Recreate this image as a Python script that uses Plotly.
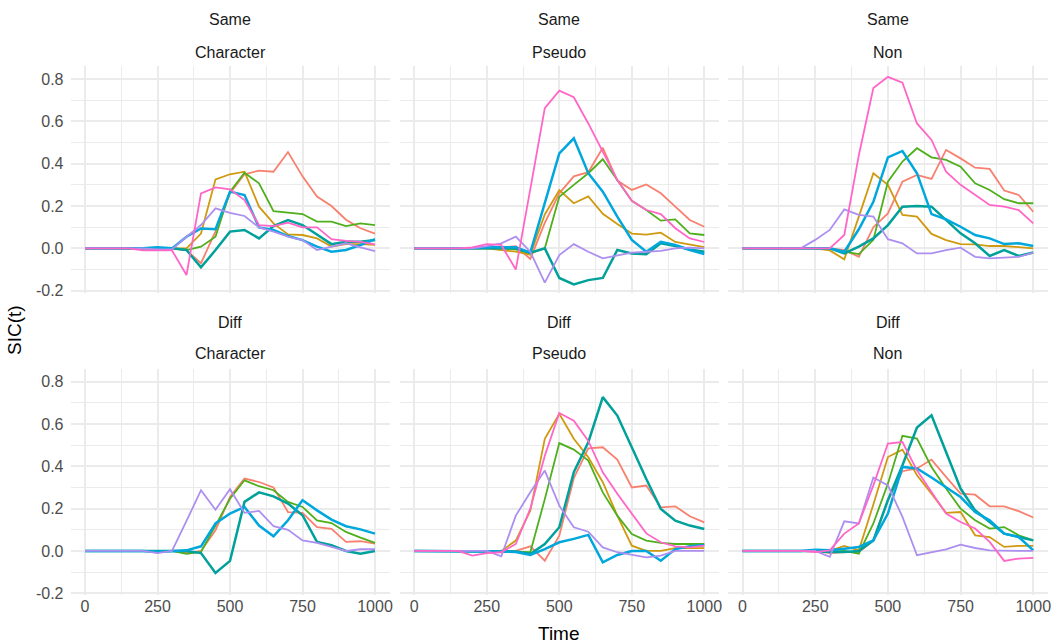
import plotly.graph_objects as go

time_ms = [0, 50, 100, 150, 200, 250, 300, 350, 400, 450, 500, 550, 600, 650, 700, 750, 800, 850, 900, 950, 1000]

row_labels = ["Same", "Diff"]
col_labels = ["Character", "Pseudo", "Non"]
series_names = ["s1", "s2", "s3", "s4", "s5", "s6", "s7"]
series_colors = ["#F8806F", "#D09A10", "#4FAF1C", "#00A09B", "#00A7DD", "#AD8FF0", "#FF66C8"]
series_widths = [1.8, 1.8, 1.8, 2.5, 2.5, 1.8, 1.8]

y_ticks = [-0.2, 0.0, 0.2, 0.4, 0.6, 0.8]
y_tick_text = ["-0.2", "0.0", "0.2", "0.4", "0.6", "0.8"]
x_ticks = [0, 250, 500, 750, 1000]
x_tick_text = ["0", "250", "500", "750", "1000"]

# Same / Character
same_char_s1 = [0, 0, 0, 0, 0, 0, 0, -0.01, -0.07, 0.08, 0.26, 0.35, 0.367, 0.362, 0.455, 0.34, 0.245, 0.2, 0.135, 0.095, 0.07]
same_char_s2 = [0, 0, 0, 0, 0, 0, 0, 0.0, 0.07, 0.326, 0.35, 0.362, 0.197, 0.118, 0.066, 0.063, 0.047, 0.008, 0.02, 0.02, 0.016]
same_char_s3 = [0, 0, 0, 0, 0, 0, 0, -0.008, 0.008, 0.055, 0.268, 0.357, 0.307, 0.176, 0.168, 0.162, 0.126, 0.126, 0.105, 0.118, 0.11]
same_char_s4 = [0, 0, 0, 0, 0, 0, 0, -0.008, -0.09, -0.008, 0.079, 0.087, 0.047, 0.105, 0.134, 0.11, 0.063, 0.02, 0.031, 0.031, 0.039]
same_char_s5 = [0, 0, 0, 0, 0, 0.005, 0.0, 0.055, 0.094, 0.09, 0.268, 0.252, 0.099, 0.087, 0.058, 0.039, 0.008, -0.016, -0.008, 0.016, 0.043]
same_char_s6 = [0, 0, 0, 0, 0, -0.005, -0.005, 0.055, 0.11, 0.189, 0.168, 0.153, 0.099, 0.079, 0.055, 0.039, -0.008, 0.008, 0.024, 0.005, -0.013]
same_char_s7 = [0, 0, 0, 0, -0.01, -0.01, -0.01, -0.126, 0.26, 0.288, 0.279, 0.228, 0.11, 0.105, 0.121, 0.099, 0.099, 0.043, 0.035, 0.031, 0.019]

# Same / Pseudo
same_pseudo_s1 = [0, 0, 0, 0, 0, 0, 0.005, 0.01, -0.05, 0.12, 0.26, 0.34, 0.36, 0.475, 0.32, 0.276, 0.302, 0.26, 0.197, 0.134, 0.102]
same_pseudo_s2 = [0, 0, 0, 0, 0, 0, -0.008, -0.016, -0.03, 0.16, 0.275, 0.213, 0.245, 0.163, 0.115, 0.07, 0.065, 0.074, 0.03, 0.017, 0.006]
same_pseudo_s3 = [0, 0, 0, 0, 0, 0, 0, -0.005, -0.024, 0.0, 0.244, 0.3, 0.355, 0.421, 0.323, 0.225, 0.181, 0.131, 0.137, 0.071, 0.063]
same_pseudo_s4 = [0, 0, 0, 0, 0, 0, 0, 0, -0.02, 0.0, -0.14, -0.17, -0.15, -0.14, -0.008, -0.024, -0.028, 0.024, 0.011, -0.005, -0.016]
same_pseudo_s5 = [0, 0, 0, 0, 0, 0.005, 0.005, 0.005, -0.02, 0.21, 0.449, 0.52, 0.355, 0.268, 0.15, 0.04, -0.016, 0.031, 0.016, -0.008, -0.027]
same_pseudo_s6 = [0, 0, 0, 0, 0, 0.01, 0.024, 0.055, -0.016, -0.162, -0.032, 0.02, -0.016, -0.047, -0.032, -0.02, -0.016, -0.012, 0.0, 0.003, 0.0]
same_pseudo_s7 = [0, 0, 0, 0, 0.005, 0.02, 0.016, -0.10, 0.28, 0.662, 0.745, 0.714, 0.59, 0.457, 0.323, 0.225, 0.181, 0.162, 0.095, 0.047, 0.03]

# Same / Non
same_non_s1 = [0, 0, 0, 0, 0, 0, 0, -0.008, -0.04, 0.10, 0.165, 0.315, 0.347, 0.328, 0.465, 0.425, 0.381, 0.375, 0.273, 0.252, 0.173]
same_non_s2 = [0, 0, 0, 0, 0, 0, -0.01, -0.052, 0.15, 0.355, 0.30, 0.158, 0.15, 0.068, 0.039, 0.02, 0.019, 0.011, 0.011, 0.005, 0.0]
same_non_s3 = [0, 0, 0, 0, 0, 0, 0, -0.016, -0.027, 0.04, 0.315, 0.41, 0.473, 0.43, 0.418, 0.386, 0.307, 0.276, 0.232, 0.213, 0.213]
same_non_s4 = [0, 0, 0, 0, 0, 0, 0, -0.024, 0.008, 0.047, 0.11, 0.197, 0.2, 0.197, 0.134, 0.071, 0.024, -0.036, -0.008, -0.036, -0.02]
same_non_s5 = [0, 0, 0, 0, 0, 0, 0, -0.016, 0.09, 0.22, 0.43, 0.46, 0.355, 0.162, 0.137, 0.102, 0.063, 0.047, 0.02, 0.024, 0.011]
same_non_s6 = [0, 0, 0, 0, 0, 0.04, 0.087, 0.184, 0.158, 0.15, 0.043, 0.024, -0.024, -0.024, -0.008, 0.003, -0.04, -0.047, -0.043, -0.04, -0.02]
same_non_s7 = [0, 0, 0, 0, 0, 0, 0, 0.063, 0.44, 0.757, 0.81, 0.783, 0.59, 0.512, 0.362, 0.3, 0.252, 0.205, 0.197, 0.181, 0.118]

# Diff / Character (no s2, s7 lines in this panel)
diff_char_s1 = [0, 0, 0, 0, 0, 0, 0, -0.01, 0.0, 0.098, 0.255, 0.342, 0.326, 0.3, 0.184, 0.18, 0.113, 0.105, 0.043, 0.046, 0.035]
diff_char_s2 = None
diff_char_s3 = [0, 0, 0, 0, 0, 0, 0, -0.013, -0.005, 0.12, 0.247, 0.334, 0.306, 0.287, 0.232, 0.208, 0.145, 0.132, 0.09, 0.063, 0.038]
diff_char_s4 = [0, 0, 0, 0, 0, 0, 0, 0, -0.01, -0.104, -0.047, 0.232, 0.277, 0.258, 0.224, 0.169, 0.043, 0.027, 0.0, -0.013, 0.0]
diff_char_s5 = [0, 0, 0, 0, 0, -0.005, 0, 0.003, 0.022, 0.13, 0.177, 0.208, 0.12, 0.069, 0.145, 0.24, 0.192, 0.148, 0.117, 0.102, 0.082]
diff_char_s6 = [0, 0, 0, 0, 0, -0.01, 0, 0.142, 0.287, 0.195, 0.292, 0.18, 0.189, 0.117, 0.1, 0.05, 0.038, 0.019, 0.0, 0.008, 0.008]
diff_char_s7 = None

# Diff / Pseudo
diff_pseudo_s1 = [0, 0, 0, 0, 0, 0, 0, 0, 0.022, -0.046, 0.072, 0.344, 0.485, 0.49, 0.432, 0.3, 0.309, 0.206, 0.211, 0.164, 0.135]
diff_pseudo_s2 = [0, 0, 0, 0, 0, 0, 0, 0.049, 0.19, 0.53, 0.648, 0.53, 0.443, 0.325, 0.167, 0.025, 0.0, 0.0, 0.013, 0.013, 0.013]
diff_pseudo_s3 = [0, 0, 0, 0, 0, 0, 0, -0.003, -0.006, 0.245, 0.51, 0.479, 0.427, 0.277, 0.167, 0.08, 0.049, 0.038, 0.033, 0.033, 0.033]
diff_pseudo_s4 = [0, 0, 0, 0, 0, 0, 0, -0.003, -0.014, 0.033, 0.112, 0.372, 0.514, 0.727, 0.64, 0.49, 0.34, 0.199, 0.143, 0.12, 0.104]
diff_pseudo_s5 = [0, 0, 0, 0, 0, 0, -0.003, -0.005, -0.019, 0.009, 0.041, 0.057, 0.076, -0.054, -0.019, 0.0, 0.0, -0.046, 0.009, 0.022, 0.028]
diff_pseudo_s6 = [0, 0, 0, 0, 0, 0, -0.025, 0.167, 0.277, 0.38, 0.214, 0.112, 0.091, 0.017, -0.006, -0.019, -0.03, -0.022, 0.0, 0.0, 0.0]
diff_pseudo_s7 = [0, 0, 0, 0, -0.022, -0.01, -0.006, 0.033, 0.2, 0.45, 0.652, 0.616, 0.52, 0.372, 0.27, 0.175, 0.083, 0.041, 0.022, 0.017, 0.025]

# Diff / Non
diff_non_s1 = [0, 0, 0, 0, 0, 0, -0.01, -0.005, -0.005, 0.05, 0.24, 0.377, 0.39, 0.432, 0.35, 0.271, 0.266, 0.211, 0.211, 0.188, 0.158]
diff_non_s2 = [0, 0, 0, 0, 0, 0, 0, 0.024, 0.003, 0.22, 0.444, 0.479, 0.358, 0.271, 0.18, 0.184, 0.074, 0.066, 0.019, 0.024, 0.024]
diff_non_s3 = [0, 0, 0, 0, 0, 0, -0.005, 0, -0.013, 0.13, 0.318, 0.544, 0.531, 0.397, 0.295, 0.2, 0.145, 0.106, 0.113, 0.074, 0.05]
diff_non_s4 = [0, 0, 0, 0, 0, 0, -0.005, -0.005, 0.0, 0.05, 0.24, 0.405, 0.583, 0.641, 0.468, 0.295, 0.192, 0.137, 0.082, 0.066, 0.05]
diff_non_s5 = [0, 0, 0, 0, 0, 0.006, 0.003, 0.011, 0.019, 0.05, 0.177, 0.397, 0.39, 0.347, 0.303, 0.255, 0.184, 0.145, 0.082, 0.066, 0.003]
diff_non_s6 = [0, 0, 0, 0, 0, 0, -0.028, 0.14, 0.13, 0.347, 0.31, 0.161, -0.02, -0.005, 0.008, 0.03, 0.014, 0.003, 0.0, 0.0, 0.0]
diff_non_s7 = [0, 0, 0, 0, 0, -0.005, 0.003, 0.082, 0.13, 0.31, 0.508, 0.515, 0.381, 0.279, 0.177, 0.137, 0.106, 0.043, -0.047, -0.036, -0.033]

panels = [
    [[same_char_s1, same_char_s2, same_char_s3, same_char_s4, same_char_s5, same_char_s6, same_char_s7],
     [same_pseudo_s1, same_pseudo_s2, same_pseudo_s3, same_pseudo_s4, same_pseudo_s5, same_pseudo_s6, same_pseudo_s7],
     [same_non_s1, same_non_s2, same_non_s3, same_non_s4, same_non_s5, same_non_s6, same_non_s7]],
    [[diff_char_s1, diff_char_s2, diff_char_s3, diff_char_s4, diff_char_s5, diff_char_s6, diff_char_s7],
     [diff_pseudo_s1, diff_pseudo_s2, diff_pseudo_s3, diff_pseudo_s4, diff_pseudo_s5, diff_pseudo_s6, diff_pseudo_s7],
     [diff_non_s1, diff_non_s2, diff_non_s3, diff_non_s4, diff_non_s5, diff_non_s6, diff_non_s7]],
]

W, H = 1056, 644
x_domains_px = [(70.5, 389.5), (399.8, 718.8), (728.0, 1047.8)]
y_domains_px = [(66.3, 292.8), (369.0, 595.4)]
x_range = [-50, 1050]
y_range = [-0.21, 0.86]

FONT = "Liberation Sans, Arial, sans-serif"
GRID = "#EBEBEB"
TICK_COLOR = "#4D4D4D"

fig = go.Figure()
layout = dict(
    width=W, height=H, margin=dict(l=0, r=0, t=0, b=0),
    paper_bgcolor="white", plot_bgcolor="white", showlegend=False,
    font=dict(family=FONT),
)
annotations = []

idx = 0
for r in range(2):
    for c in range(3):
        idx += 1
        xa = "x" if idx == 1 else f"x{idx}"
        ya = "y" if idx == 1 else f"y{idx}"
        xkey = "xaxis" if idx == 1 else f"xaxis{idx}"
        ykey = "yaxis" if idx == 1 else f"yaxis{idx}"
        x0, x1 = x_domains_px[c]
        yt, yb = y_domains_px[r]
        layout[xkey] = dict(
            domain=[x0 / W, x1 / W], range=x_range, anchor=ya,
            tickmode="array", tickvals=x_ticks, ticktext=x_tick_text,
            showticklabels=(r == 1), ticks="", showline=False, zeroline=False,
            showgrid=True, gridcolor=GRID, gridwidth=1.5,
            minor=dict(tickmode="array", tickvals=[125, 375, 625, 875], showgrid=True, gridcolor=GRID, gridwidth=1.0),
            tickfont=dict(size=16, color=TICK_COLOR, family=FONT),
            automargin=False, fixedrange=True,
        )
        layout[ykey] = dict(
            domain=[1 - yb / H, 1 - yt / H], range=y_range, anchor=xa,
            tickmode="array", tickvals=y_ticks, ticktext=y_tick_text,
            showticklabels=(c == 0), ticks="", showline=False, zeroline=False,
            showgrid=True, gridcolor=GRID, gridwidth=1.5,
            minor=dict(tickmode="array", tickvals=[-0.1, 0.1, 0.3, 0.5, 0.7], showgrid=True, gridcolor=GRID, gridwidth=1.0),
            tickfont=dict(size=16, color=TICK_COLOR, family=FONT),
            ticklabelstandoff=6,
            automargin=False, fixedrange=True,
        )
        for k in range(7):
            vals = panels[r][c][k]
            if vals is None:
                continue
            fig.add_trace(go.Scatter(
                x=time_ms, y=vals, mode="lines", name=series_names[k],
                line=dict(color=series_colors[k], width=series_widths[k]),
                xaxis=xa, yaxis=ya, hoverinfo="skip",
            ))
        cx = (x0 + x1) / 2 / W
        strip_top = 20 if r == 0 else 322
        strip_bot = 52 if r == 0 else 353
        annotations.append(dict(x=cx, y=1 - strip_top / H, xref="paper", yref="paper",
                                text=row_labels[r], showarrow=False,
                                font=dict(size=16, color="#1A1A1A", family=FONT),
                                xanchor="center", yanchor="middle"))
        annotations.append(dict(x=cx, y=1 - strip_bot / H, xref="paper", yref="paper",
                                text=col_labels[c], showarrow=False,
                                font=dict(size=16, color="#1A1A1A", family=FONT),
                                xanchor="center", yanchor="middle"))

annotations.append(dict(x=559 / W, y=1 - 633 / H, xref="paper", yref="paper", text="Time",
                        showarrow=False, font=dict(size=19, color="black", family=FONT),
                        xanchor="center", yanchor="middle"))
annotations.append(dict(x=14 / W, y=1 - 330 / H, xref="paper", yref="paper", text="SIC(t)",
                        showarrow=False, textangle=-90, font=dict(size=19, color="black", family=FONT),
                        xanchor="center", yanchor="middle"))
layout["annotations"] = annotations
fig.update_layout(**layout)
fig.write_html("out.html", config={"displayModeBar": False},
               post_script="document.body.style.margin='0';document.body.style.overflow='hidden';")
